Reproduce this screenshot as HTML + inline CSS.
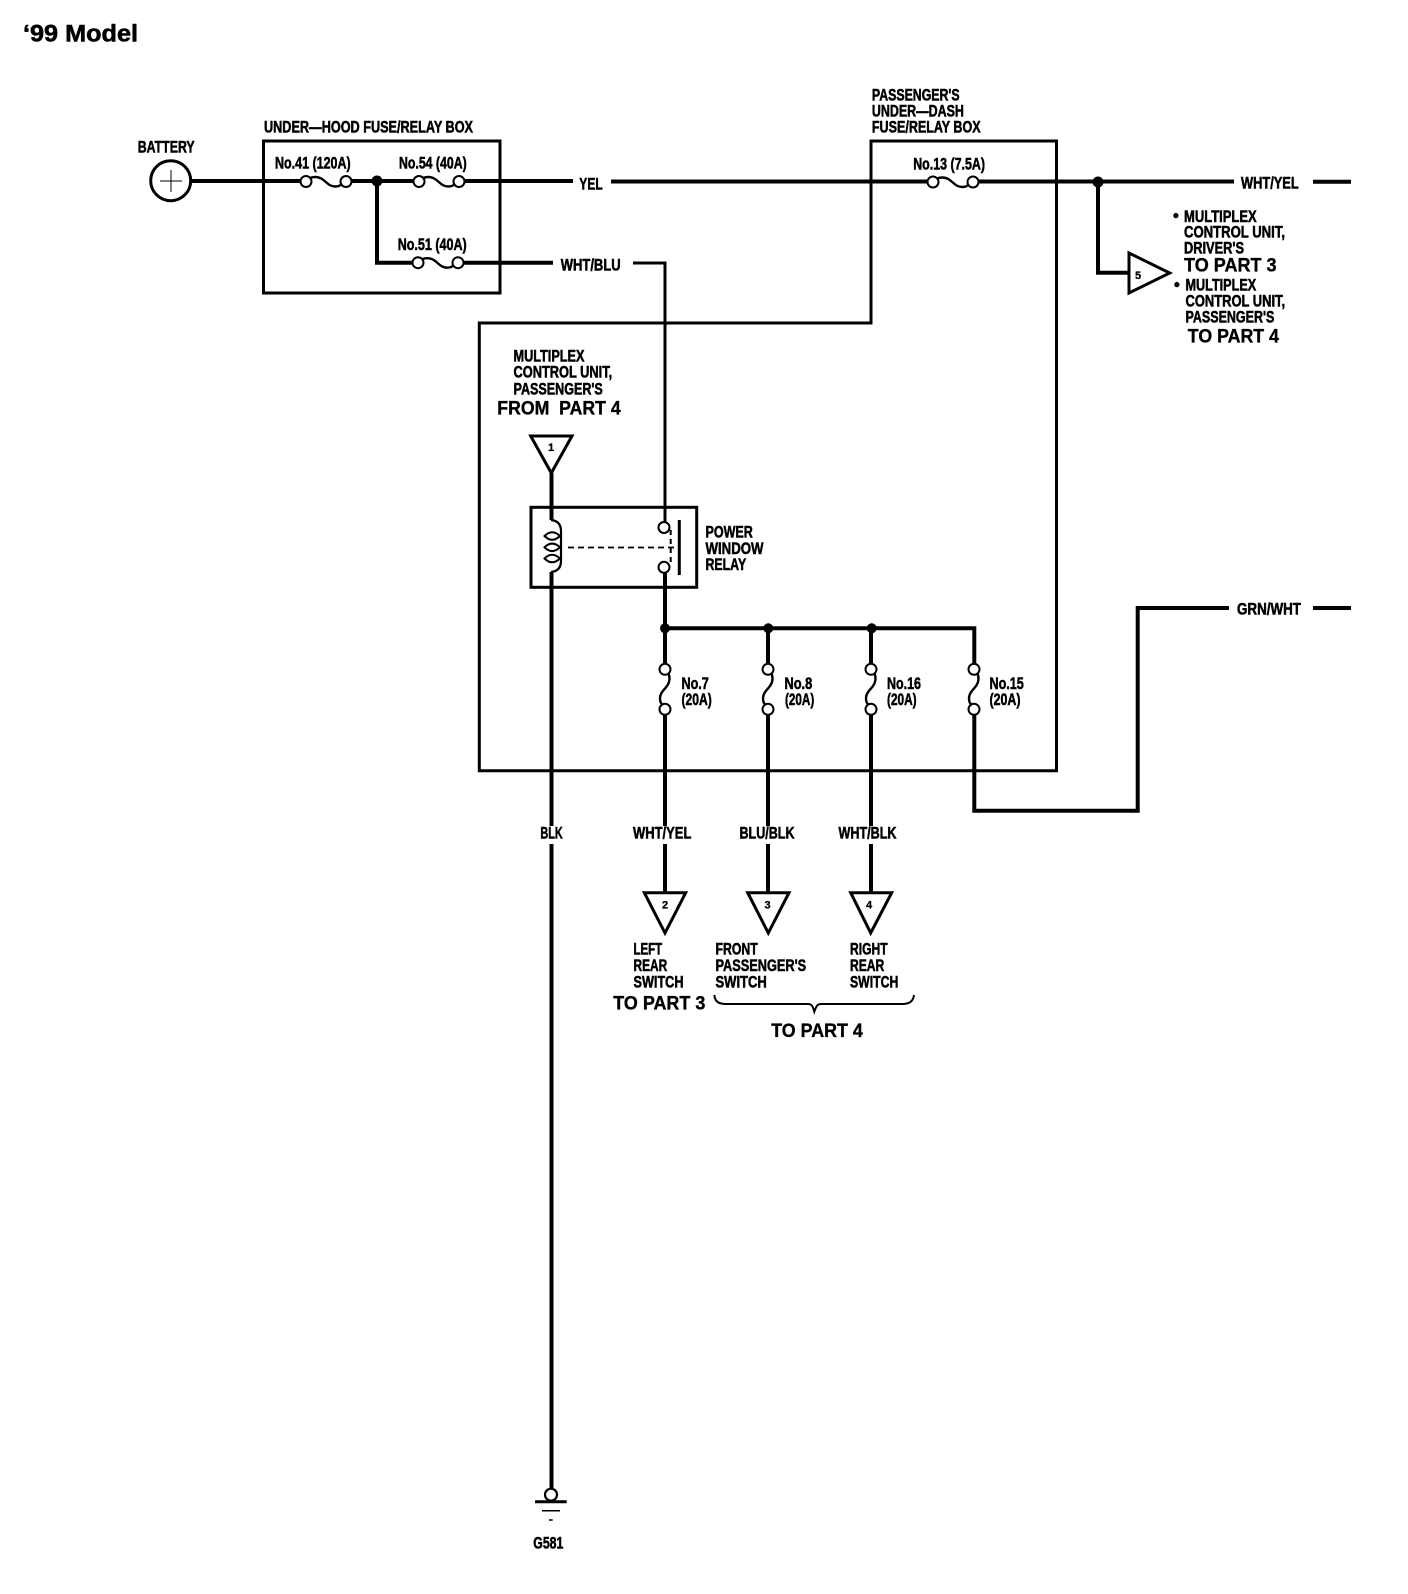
<!DOCTYPE html>
<html><head><meta charset="utf-8"><title>'99 Model</title>
<style>
html,body{margin:0;padding:0;background:#fff}
svg{display:block}
text{font-family:"Liberation Sans",Arial,sans-serif;font-weight:bold;fill:#000;stroke:#000;stroke-width:.55}
.s{font-size:16.5px}
.b{font-size:19px;stroke-width:.35}
.n{font-size:11px;stroke-width:.3}
.w{fill:none;stroke:#000;stroke-width:4}
.t{fill:none;stroke:#000;stroke-width:3}
.tr{fill:#fff;stroke:#000;stroke-width:3;stroke-linejoin:miter}
</style></head><body>
<svg xmlns="http://www.w3.org/2000/svg" width="1408" height="1594" viewBox="0 0 1408 1594">
<defs>
<g id="f">
<path d="M5,0 H35" fill="none" stroke="#fff" stroke-width="6"/>
<path d="M4,-3.5 C8,-5 12,-5 16,-2.5 C20,0 23,5 29,5 C33,5 35,3.5 36,2" fill="none" stroke="#000" stroke-width="2.4"/>
<circle cx="0" cy="0" r="5.5" fill="#fff" stroke="#000" stroke-width="2"/>
<circle cx="40" cy="0" r="5.5" fill="#fff" stroke="#000" stroke-width="2"/>
</g>
</defs>
<rect width="1408" height="1594" fill="#fff"/>

<text x="23" y="41.5" font-size="24" textLength="115" lengthAdjust="spacingAndGlyphs">‘99 Model</text>

<!-- boxes -->
<rect x="263.5" y="141" width="236.5" height="152" class="t"/>
<path class="t" d="M871,323 V141 H1056.5 V770.7 H479.3 V323 Z"/>

<!-- wires -->
<path class="w" d="M191,181 H573"/>
<path class="w" d="M611,181.5 H1234"/>
<path class="w" d="M1313,181.7 H1351"/>
<path class="w" d="M377,181 V262.7 H553"/>
<path d="M633,263 H665 V522" fill="none" stroke="#000" stroke-width="3"/>
<path class="w" d="M1098,182 V272.7 H1129"/>
<path class="w" d="M551.5,473 V520"/>
<path class="w" d="M551.5,572 V1488"/>
<path class="w" d="M665,572 V892"/>
<path class="w" d="M665,628.3 H974.3 V770"/>
<path class="w" d="M768,628.3 V892"/>
<path class="w" d="M871,628.3 V892"/>
<path class="w" stroke-width="3.5" d="M974.3,770 V810.7 H1137.7 V608 H1229"/>
<path class="w" d="M1313,608 H1351"/>

<!-- label gaps in wires -->
<g fill="#fff">
<rect x="548" y="826" width="7" height="18"/>
<rect x="661" y="826" width="8" height="18"/>
<rect x="764" y="826" width="8" height="18"/>
<rect x="867" y="826" width="8" height="18"/>
</g>

<!-- junctions -->
<g fill="#000">
<circle cx="377" cy="181" r="5.5"/><circle cx="1098" cy="182" r="5.5"/>
<circle cx="665" cy="628.3" r="5"/><circle cx="768.3" cy="628.3" r="5"/><circle cx="871.7" cy="628.3" r="5"/>
</g>

<!-- battery -->
<circle cx="170.7" cy="180.7" r="20" fill="#fff" stroke="#000" stroke-width="3"/>
<path d="M160,181 H182 M171,170 V192" stroke="#000" stroke-width="1" fill="none"/>

<!-- fuses -->
<use href="#f" transform="translate(306,181.5)"/>
<use href="#f" transform="translate(419,181.5)"/>
<use href="#f" transform="translate(418,262.7)"/>
<use href="#f" transform="translate(933,182)"/>
<use href="#f" transform="translate(665,669.3) rotate(90)"/>
<use href="#f" transform="translate(768,669.3) rotate(90)"/>
<use href="#f" transform="translate(871,669.3) rotate(90)"/>
<use href="#f" transform="translate(974,669.3) rotate(90)"/>

<!-- relay -->
<rect x="531" y="507.3" width="165.7" height="80" fill="none" stroke="#000" stroke-width="3"/>
<rect x="547" y="512" width="10" height="72" fill="#fff"/>
<path class="w" d="M551.5,507 V520"/>
<path class="w" d="M551.5,572 V588"/>
<path d="M551,520 Q561,521 561,531 V561 Q561,571 551,572" fill="none" stroke="#000" stroke-width="2.2"/>
<g fill="none" stroke="#000" stroke-width="2">
<path d="M544.5,536 Q552,528.5 560,536 Q552,543.5 544.5,536 Z"/>
<path d="M544.5,547.3 Q552,539.8 560,547.3 Q552,554.8 544.5,547.3 Z"/>
<path d="M544.5,558.5 Q552,551 560,558.5 Q552,566 544.5,558.5 Z"/>
</g>
<path d="M568,547.5 H678" stroke="#000" stroke-width="1.8" stroke-dasharray="6 4" fill="none"/>
<path d="M670.7,530 V564" stroke="#000" stroke-width="2" stroke-dasharray="5 4" fill="none"/>
<circle cx="664" cy="527.5" r="5.5" fill="#fff" stroke="#000" stroke-width="2"/>
<circle cx="664" cy="567.3" r="5.5" fill="#fff" stroke="#000" stroke-width="2"/>
<path d="M679.3,520 V575" stroke="#000" stroke-width="3"/>

<!-- triangles -->
<polygon class="tr" points="530.7,436 572,436 551.3,473"/>
<polygon class="tr" points="644.3,892.7 685.7,892.7 665,933"/>
<polygon class="tr" points="747.7,892.7 789,892.7 768.3,933"/>
<polygon class="tr" points="850.7,892.7 891.7,892.7 870.7,933"/>
<polygon class="tr" points="1129,253 1129,293 1169.7,273"/>
<text class="n" x="548" y="451">1</text>
<text class="n" x="662" y="908.3">2</text>
<text class="n" x="764.5" y="908.3">3</text>
<text class="n" x="866" y="908.3">4</text>
<text class="n" x="1135" y="279">5</text>

<!-- brace -->
<path d="M714.3,995 C715,1002 719,1004 726,1004 H808 C812,1004 813,1007 814.3,1011.7 C816,1007 817,1004 821,1004 H902 C909,1004 913,1002 914,995" fill="none" stroke="#000" stroke-width="2"/>

<!-- ground -->
<circle cx="551" cy="1494.7" r="6" fill="#fff" stroke="#000" stroke-width="2.2"/>
<path d="M535,1501.7 H566.7" stroke="#000" stroke-width="3"/>
<path d="M542,1510.7 H560" stroke="#000" stroke-width="1.5"/>
<path d="M549,1520 H552.7" stroke="#000" stroke-width="1.5"/>

<!-- labels -->
<g>
<text class="s" x="264" y="132.7" textLength="209" lengthAdjust="spacingAndGlyphs">UNDER—HOOD FUSE/RELAY BOX</text>
<text class="s" x="137.7" y="152.3" textLength="57" lengthAdjust="spacingAndGlyphs">BATTERY</text>
<text class="s" x="275" y="168.3" textLength="75.7" lengthAdjust="spacingAndGlyphs">No.41 (120A)</text>
<text class="s" x="399" y="168.3" textLength="67.7" lengthAdjust="spacingAndGlyphs">No.54 (40A)</text>
<text class="s" x="397.7" y="250" textLength="69" lengthAdjust="spacingAndGlyphs">No.51 (40A)</text>
<text class="s" x="579.3" y="189.3" textLength="23.4" lengthAdjust="spacingAndGlyphs">YEL</text>
<text class="s" x="560.7" y="270.7" textLength="60" lengthAdjust="spacingAndGlyphs">WHT/BLU</text>

<text class="s" x="871.9" y="100.7" textLength="87.7" lengthAdjust="spacingAndGlyphs">PASSENGER'S</text>
<text class="s" x="871.9" y="116.7" textLength="92" lengthAdjust="spacingAndGlyphs">UNDER—DASH</text>
<text class="s" x="871.9" y="132.7" textLength="108.7" lengthAdjust="spacingAndGlyphs">FUSE/RELAY BOX</text>
<text class="s" x="913.2" y="169.3" textLength="71.8" lengthAdjust="spacingAndGlyphs">No.13 (7.5A)</text>
<text class="s" x="1241" y="188.7" textLength="57.7" lengthAdjust="spacingAndGlyphs">WHT/YEL</text>
<text class="s" x="1237" y="614.5" textLength="64" lengthAdjust="spacingAndGlyphs">GRN/WHT</text>

<text class="s" x="1173" y="221">•</text>
<text class="s" x="1184" y="222" textLength="72.7" lengthAdjust="spacingAndGlyphs">MULTIPLEX</text>
<text class="s" x="1184" y="237.7" textLength="101" lengthAdjust="spacingAndGlyphs">CONTROL UNIT,</text>
<text class="s" x="1184" y="253.7" textLength="60" lengthAdjust="spacingAndGlyphs">DRIVER'S</text>
<text class="b" x="1184" y="271.7" textLength="92.6" lengthAdjust="spacingAndGlyphs">TO PART 3</text>
<text class="s" x="1174" y="290">•</text>
<text class="s" x="1185.5" y="290.7" textLength="70.7" lengthAdjust="spacingAndGlyphs">MULTIPLEX</text>
<text class="s" x="1185.5" y="306.7" textLength="99.6" lengthAdjust="spacingAndGlyphs">CONTROL UNIT,</text>
<text class="s" x="1185.5" y="322.7" textLength="88.8" lengthAdjust="spacingAndGlyphs">PASSENGER'S</text>
<text class="b" x="1187.8" y="342.7" textLength="91.2" lengthAdjust="spacingAndGlyphs">TO PART 4</text>

<text class="s" x="513.5" y="361.7" textLength="71" lengthAdjust="spacingAndGlyphs">MULTIPLEX</text>
<text class="s" x="513.5" y="377.7" textLength="98.7" lengthAdjust="spacingAndGlyphs">CONTROL UNIT,</text>
<text class="s" x="513.5" y="394.3" textLength="89.3" lengthAdjust="spacingAndGlyphs">PASSENGER'S</text>
<text class="b" x="497.3" y="414.3" textLength="123.4" lengthAdjust="spacingAndGlyphs" xml:space="preserve">FROM  PART 4</text>

<text class="s" x="705.5" y="537.3" textLength="47.3" lengthAdjust="spacingAndGlyphs">POWER</text>
<text class="s" x="705.5" y="554" textLength="58" lengthAdjust="spacingAndGlyphs">WINDOW</text>
<text class="s" x="705.5" y="570" textLength="40.7" lengthAdjust="spacingAndGlyphs">RELAY</text>

<text class="s" x="681.5" y="689" textLength="27.3" lengthAdjust="spacingAndGlyphs">No.7</text>
<text class="s" x="681.5" y="705" textLength="30.3" lengthAdjust="spacingAndGlyphs">(20A)</text>
<text class="s" x="784.5" y="689" textLength="27.7" lengthAdjust="spacingAndGlyphs">No.8</text>
<text class="s" x="785" y="705" textLength="29.3" lengthAdjust="spacingAndGlyphs">(20A)</text>
<text class="s" x="887" y="689" textLength="34" lengthAdjust="spacingAndGlyphs">No.16</text>
<text class="s" x="887" y="705" textLength="29.6" lengthAdjust="spacingAndGlyphs">(20A)</text>
<text class="s" x="989.5" y="689" textLength="34.3" lengthAdjust="spacingAndGlyphs">No.15</text>
<text class="s" x="989.5" y="705" textLength="31" lengthAdjust="spacingAndGlyphs">(20A)</text>

<text class="s" x="540.4" y="838.7" textLength="22.4" lengthAdjust="spacingAndGlyphs">BLK</text>
<text class="s" x="633" y="838.7" textLength="58.4" lengthAdjust="spacingAndGlyphs">WHT/YEL</text>
<text class="s" x="739.5" y="838.7" textLength="55" lengthAdjust="spacingAndGlyphs">BLU/BLK</text>
<text class="s" x="838.5" y="838.7" textLength="58" lengthAdjust="spacingAndGlyphs">WHT/BLK</text>

<text class="s" x="633.5" y="954.7" textLength="28.7" lengthAdjust="spacingAndGlyphs">LEFT</text>
<text class="s" x="633.5" y="971" textLength="33.7" lengthAdjust="spacingAndGlyphs">REAR</text>
<text class="s" x="633.5" y="987.3" textLength="50" lengthAdjust="spacingAndGlyphs">SWITCH</text>
<text class="b" x="613.3" y="1009.3" textLength="92" lengthAdjust="spacingAndGlyphs">TO PART 3</text>
<text class="s" x="715.5" y="954.7" textLength="42.3" lengthAdjust="spacingAndGlyphs">FRONT</text>
<text class="s" x="715.5" y="971" textLength="90.7" lengthAdjust="spacingAndGlyphs">PASSENGER'S</text>
<text class="s" x="715.5" y="987.3" textLength="51.3" lengthAdjust="spacingAndGlyphs">SWITCH</text>
<text class="s" x="850" y="954.7" textLength="37.6" lengthAdjust="spacingAndGlyphs">RIGHT</text>
<text class="s" x="850" y="971" textLength="34.3" lengthAdjust="spacingAndGlyphs">REAR</text>
<text class="s" x="850" y="987.3" textLength="48.3" lengthAdjust="spacingAndGlyphs">SWITCH</text>
<text class="b" x="771.2" y="1037" textLength="91.6" lengthAdjust="spacingAndGlyphs">TO PART 4</text>
<text class="s" x="533.3" y="1548.3" textLength="30" lengthAdjust="spacingAndGlyphs">G581</text>
</g>
</svg>
</body></html>
